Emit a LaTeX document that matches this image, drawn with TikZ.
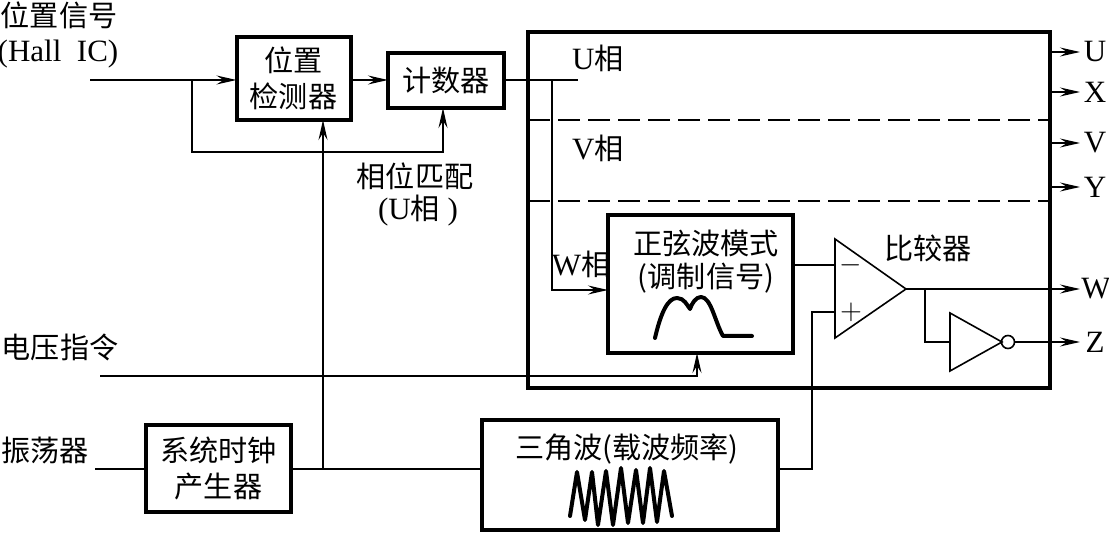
\documentclass[tikz,border=0pt]{standalone}
\usepackage{fontspec}
\setmainfont{Liberation Serif}
\newfontfamily\cjk[Scale=0.94]{Noto Sans CJK SC}
\usetikzlibrary{arrows.meta}

\begin{document}
\begin{tikzpicture}[x=0.5pt, y=-0.5pt,
			>={Stealth[length=10pt,width=4.5pt,inset=3.5pt]},   %arrow tips
			font=\fontsize{15.5}{18}\selectfont,
			box/.style={draw, line width=#1, outer sep=0pt, inner sep=0pt, align=center},
			box/.default=2pt,
			txt/.style={inner sep=0pt, align=center},
			gate/.style={line width=0.8pt, line join=miter},
			wave/.style={line width=2pt, line join=round, line cap=round},
			conn/.style={line width=0.7pt}]
			\useasboundingbox (0,0) rectangle (1109,533);
			% blocks
			\node[box, minimum width=57pt, minimum height=41.5pt] (detector) at (293.5,78.5) {\cjk 位置\\\cjk 检测器};
			\node[box, minimum width=58pt, minimum height=27.5pt] (counter) at (446,80.5) {\cjk 计数器};
			\node[box=1.8pt, minimum width=261pt, minimum height=178pt] (driver) at (789,210) {};
			\node[box, minimum width=92.5pt, minimum height=69pt] (sine) at (700.5,284) {};
			\node[box, minimum width=72.5pt, minimum height=43.5pt] (clock) at (218.5,468.5) {\cjk 系统时钟\\\cjk 产生器};
			\node[box, minimum width=148pt, minimum height=55pt] (tri) at (630,475) {};
			% left labels
			\node[txt] (hall) at (59,15) {\cjk 位置信号};
			\node[txt] (hallic) at (58,54) {(Hall\ \ IC)};
			\node[txt] (match) at (415,176) {\cjk 相位匹配};
			\node[txt] (matchu) at (418,211) {(U{\cjk 相}\ )};
			\node[txt] (voltage) at (60,347) {\cjk 电压指令};
			\node[txt] (osc) at (45,451) {\cjk 振荡器};
			% labels in the blocks
			\node[txt] (phu) at (598,58) {U{\cjk 相}};
			\node[txt] (phv) at (598,148) {V{\cjk 相}};
			\node[txt] (phw) at (581,264) {W{\cjk 相}};
			\node[txt] (sinetxt) at (706,243) {\cjk 正弦波模式};
			\node[txt] (modtxt) at (706,278) {\cjk (调制信号)};
			\node[txt] (cmptxt) at (928,248) {\cjk 比较器};
			\node[txt] (tritxt) at (627,449) {\cjk 三角波(载波频率)};
			% phase separators
			\draw[dashed, dash pattern=on 11pt off 4pt, line width=0.8pt] (driver.west |- 0,120) -- (driver.east |- 0,120);
			\draw[dashed, dash pattern=on 11pt off 4pt, line width=0.8pt] (driver.west |- 0,201) -- (driver.east |- 0,201);
			% comparator and inverter
			\coordinate (cmpa) at (835,239);
			\coordinate (cmpb) at (835,338);
			\coordinate (cmpout) at (906,289);
			\draw[gate] (cmpa) -- (cmpout) -- (cmpb) -- cycle;
			\coordinate (cmpneg) at (835,265);
			\coordinate (cmppos) at (835,312);
			\node[txt] (minus) at (851,265) {$-$};
			\node[txt] (plus) at (851,312) {$+$};
			\coordinate (inva) at (950,313);
			\coordinate (invb) at (950,371);
			\coordinate (invout) at (1002,342);
			\draw[gate] (inva) -- (invout) -- (invb) -- cycle;
			\node[draw, circle, line width=0.8pt, minimum size=6.5pt, inner sep=0pt, outer sep=0pt] (bubble) at (1008,342) {};
			% waveforms
			\draw[wave] (655,338) .. controls (661,312) and (668,298) .. (677,298) .. controls (684,298) and (687,305) .. (690,309) .. controls (692,303) and (696,297) .. (701,297) .. controls (711,297) and (715,322) .. (723,336) -- (752,336);
			\draw[wave] (570,516) -- (577,472) -- (585,520) -- (592,472) -- (598,525) -- (606,471) -- (613,525) -- (621,468) -- (628,523) -- (636,470) -- (643,523) -- (650,468) -- (657,522) -- (664,471) -- (672,516);
			% outputs
			\foreach \name/\py in {U/52,X/92,V/143,Y/187} {
				\coordinate (tip\name) at (1080,\py);
				\node[txt] (out\name) at (1095,\py) {\name};
				\draw[->, conn] (driver.east |- tip\name) -- (tip\name);
			}
			\coordinate (tipW) at (1080,289);
			\node[txt] (outW) at (1096,289) {W};
			\coordinate (tipZ) at (1080,342);
			\node[txt] (outZ) at (1095,342) {Z};
			\draw[->, conn] (cmpout) -- (tipW);
			\draw[->, conn] (bubble.east) -- (tipZ);
			\coordinate (split) at (925,289);
			\draw[conn] (split) |- (inva |- invout);
			% connectors
			\coordinate (hallin) at (90,80);
			\coordinate (hallsplit) at (192,80);
			\coordinate (oscin) at (95,469);
			\coordinate (clksplit) at (323,469);
			\coordinate (uend) at (578,80);
			\coordinate (usplit) at (552,80);
			\coordinate (volt) at (100,376);
			\coordinate (sinein) at (697,353);
			\draw[->, conn] (hallin) -- (detector.west |- hallin);
			\draw[->, conn] (detector.east |- hallin) -- (counter.west |- hallin);
			\draw[->, conn] (hallsplit) |- (443,152) -- (443,108);
			\draw[conn] (oscin) -- (clock.west |- oscin);
			\draw[conn] (clock.east |- oscin) -- (tri.west |- oscin);
			\draw[->, conn] (clksplit) -- (clksplit |- detector.south);
			\draw[conn] (counter.east |- uend) -- (uend);
			\draw[->, conn] (usplit) |- (sine.west |- 0,290);
			\draw[->, conn] (volt) -| (sinein);
			\draw[conn] (sine.east |- cmpneg) -- (cmpneg);
			\draw[conn] (tri.east |- oscin) -| (812,312) -- (cmppos);
		\end{tikzpicture}
\end{document}
